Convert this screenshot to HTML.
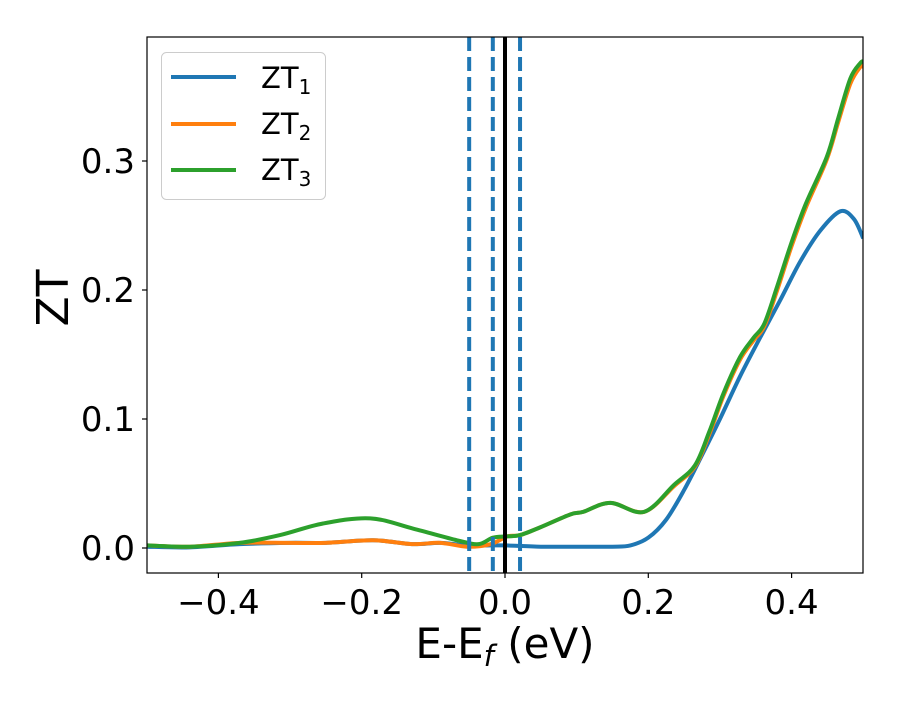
<!DOCTYPE html>
<html><head><meta charset="utf-8"><style>
body{margin:0;background:#fff}
svg text{font-family:"DejaVu Sans","Liberation Sans",sans-serif;fill:#000}
</style></head><body>
<svg id="chart" width="900" height="700" viewBox="0 0 900 700" xmlns="http://www.w3.org/2000/svg">
<rect width="900" height="700" fill="#fff"/>
<g id="plot"></g>
</svg>
<script>
const xTicks=[-0.4,-0.2,0.0,0.2,0.4];
const xTickLabels=["\u22120.4","\u22120.2","0.0","0.2","0.4"];
const yTicks=[0.0,0.1,0.2,0.3];
const yTickLabels=["0.0","0.1","0.2","0.3"];
const vLinesDashed=[-0.05,-0.017,0.021];
const vLineSolid=[0.0];
const xs1=[-0.5,-0.44,-0.37,-0.3,-0.25,-0.184,-0.13,-0.09,-0.053,-0.02,0.0,0.05,0.1,0.15,0.175,0.2,0.225,0.25,0.275,0.3,0.328,0.356,0.384,0.412,0.44,0.468,0.487,0.5];
const zt1=[0.001,0.0005,0.003,0.004,0.004,0.006,0.003,0.004,0.002,0.002,0.002,0.001,0.001,0.001,0.002,0.008,0.022,0.045,0.072,0.1,0.133,0.163,0.192,0.222,0.246,0.261,0.255,0.24];
const xs2=[-0.5,-0.44,-0.37,-0.3,-0.25,-0.184,-0.13,-0.09,-0.053,-0.02,0.003,0.021,0.049,0.091,0.109,0.147,0.194,0.236,0.265,0.285,0.305,0.328,0.347,0.362,0.38,0.4,0.42,0.449,0.465,0.482,0.496,0.5];
const zt2=[0.002,0.001,0.004,0.004,0.004,0.006,0.003,0.004,0.001,0.003,0.009,0.010,0.016,0.026,0.028,0.035,0.028,0.048,0.063,0.088,0.118,0.146,0.161,0.172,0.2,0.234,0.264,0.301,0.33,0.36,0.373,0.373];
const xs3=[-0.5,-0.44,-0.37,-0.314,-0.254,-0.188,-0.128,-0.067,-0.037,-0.017,0.003,0.021,0.049,0.091,0.109,0.147,0.194,0.236,0.265,0.285,0.305,0.328,0.347,0.362,0.38,0.4,0.42,0.449,0.465,0.482,0.496,0.5];
const zt3=[0.002,0.001,0.004,0.010,0.019,0.023,0.015,0.006,0.003,0.008,0.009,0.010,0.016,0.026,0.028,0.035,0.028,0.049,0.064,0.09,0.12,0.148,0.163,0.174,0.203,0.237,0.267,0.303,0.333,0.364,0.376,0.377];

const L=147,R=863,T=37,B=573;
const X=v=>505+v*716.5;
const Y=v=>548-v*1290;
const NS="http://www.w3.org/2000/svg";
const g=document.getElementById('plot');
function mk(t,a,p){const e=document.createElementNS(NS,t);for(const k in a)e.setAttribute(k,a[k]);(p||g).appendChild(e);return e;}
const cp=mk('clipPath',{id:'clip'});mk('rect',{x:L,y:T,width:R-L,height:B-T},cp);
function smooth(xs,ys){const p=xs.map((x,i)=>[X(x),Y(ys[i])]);let d='M'+p[0][0]+','+p[0][1];
for(let i=0;i<p.length-1;i++){const p0=p[Math.max(i-1,0)],p1=p[i],p2=p[i+1],p3=p[Math.min(i+2,p.length-1)];
const c1x=p1[0]+(p2[0]-p0[0])/6,c1y=p1[1]+(p2[1]-p0[1])/6,c2x=p2[0]-(p3[0]-p1[0])/6,c2y=p2[1]-(p3[1]-p1[1])/6;
d+=`C${c1x},${c1y} ${c2x},${c2y} ${p2[0]},${p2[1]}`;}return d;}
const series=[[xs1,zt1,'#1f77b4','zt1-line'],[xs2,zt2,'#ff7f0e','zt2-line'],[xs3,zt3,'#2ca02c','zt3-line']];
series.forEach(s=>{const e=mk('path',{d:smooth(s[0],s[1]),fill:'none',stroke:s[2],'stroke-width':4,'clip-path':'url(#clip)'});

});
vLinesDashed.forEach(v=>{const e=mk('line',{x1:X(v),x2:X(v),y1:T,y2:B,stroke:'#1f77b4','stroke-width':4,'stroke-dasharray':'14,6'});

});
vLineSolid.forEach(v=>{const e=mk('line',{x1:X(v),x2:X(v),y1:T,y2:B,stroke:'#000','stroke-width':4});

});
const fr=mk('rect',{x:L,y:T,width:R-L,height:B-T,fill:'none',stroke:'#000','stroke-width':1.2});


xTicks.forEach((v,i)=>{mk('line',{x1:X(v),x2:X(v),y1:B,y2:B+5,stroke:'#000','stroke-width':1.2});
const t=mk('text',{x:X(v),y:B+41,'text-anchor':'middle','font-size':34});t.textContent=xTickLabels[i];

});
yTicks.forEach((v,i)=>{mk('line',{x1:L-5,x2:L,y1:Y(v),y2:Y(v),stroke:'#000','stroke-width':1.2});
const t=mk('text',{x:L-12,y:Y(v)+12,'text-anchor':'end','font-size':34});t.textContent=yTickLabels[i];

});
</script>
<svg style="position:absolute;left:0;top:0" width="900" height="700">
<text x="505" y="658" text-anchor="middle" font-size="42">E-E<tspan font-style="italic" font-size="29" dy="8">f</tspan><tspan dy="-8"> (eV)</tspan></text>
<text transform="translate(68,298) rotate(-90)" text-anchor="middle" font-size="44">ZT</text>
<g>
<rect x="161.5" y="52.5" width="164" height="147" rx="5" fill="#fff" fill-opacity="0.8" stroke="#ccc" stroke-width="1"/>
<line x1="171" x2="236" y1="77" y2="77" stroke="#1f77b4" stroke-width="4"/>
<line x1="171" x2="236" y1="124" y2="124" stroke="#ff7f0e" stroke-width="4"/>
<line x1="171" x2="236" y1="170" y2="170" stroke="#2ca02c" stroke-width="4"/>
<text x="261" y="88" font-size="29">ZT<tspan font-size="20" dy="6">1</tspan></text>
<text x="261" y="134" font-size="29">ZT<tspan font-size="20" dy="6">2</tspan></text>
<text x="261" y="180" font-size="29">ZT<tspan font-size="20" dy="6">3</tspan></text>
</g>
</svg>
</body></html>
